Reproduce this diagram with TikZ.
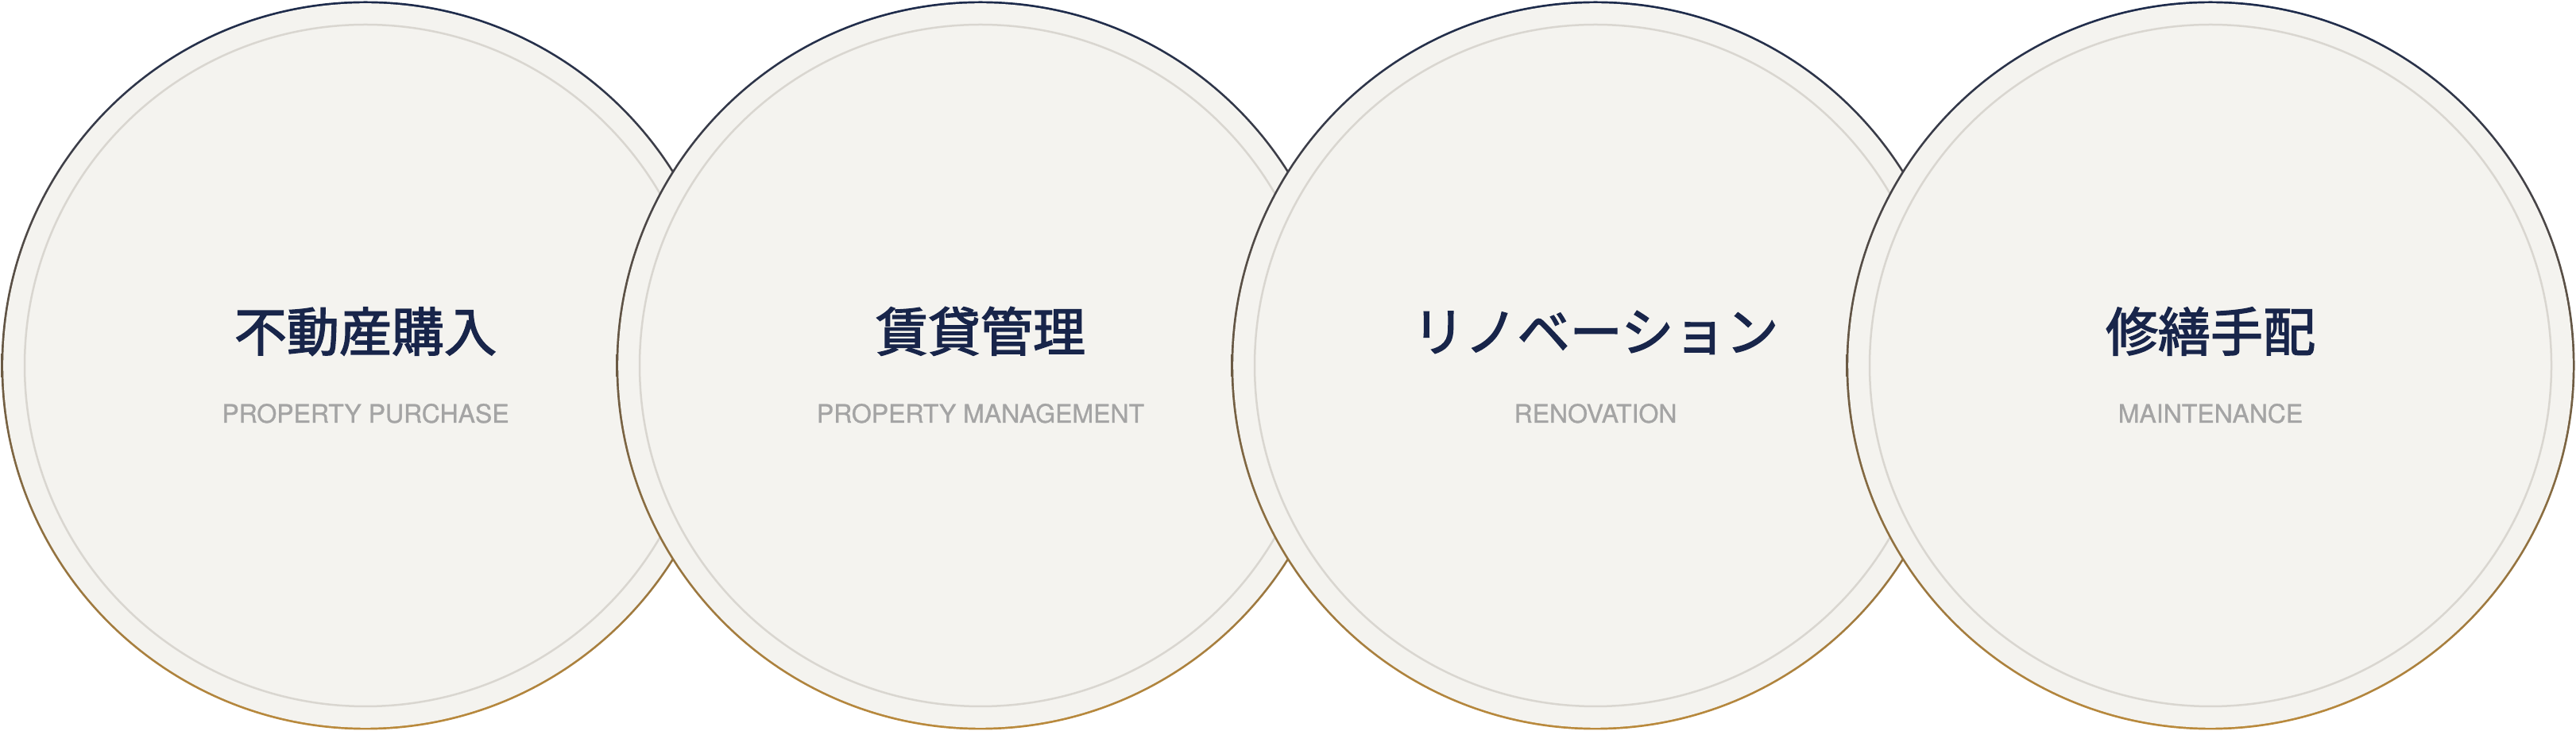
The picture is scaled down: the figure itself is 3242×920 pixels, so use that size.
\documentclass[tikz,border=0pt]{standalone}
\usepackage{fontspec}
\setmainfont{TeX Gyre Heros}[FakeBold=0.9]
\newfontfamily\jpfont{Noto Sans CJK JP}[FakeBold=2.3]
\definecolor{ringtop}{HTML}{1C2A4B}
\definecolor{ringbot}{HTML}{BA8A3C}
\definecolor{cfill}{HTML}{F4F3EF}
\definecolor{innerring}{HTML}{D9D6D0}
\definecolor{titlecol}{HTML}{18254A}
\definecolor{subcol}{HTML}{A4A4A4}
\tikzset{
  ringshade/.style={top color=ringtop, bottom color=ringbot},
  ringfill/.style={fill=cfill},
  innerline/.style={draw=innerring, line width=2.5pt},
  titletext/.style={text=titlecol, font=\jpfont\fontsize{66}{72}\selectfont, inner sep=0pt, anchor=base},
  subtext/.style={text=subcol, font=\fontsize{32}{38}\selectfont, inner sep=0pt, anchor=base}
}
\begin{document}
\begin{tikzpicture}[x=1pt,y=1pt]
\useasboundingbox (0,0) rectangle (3242,920);
\foreach \i/\cx/\ja/\en in {1/460/{不動産購入}/{PROPERTY PURCHASE},2/1234/{賃貸管理}/{PROPERTY MANAGEMENT},3/2008/{リノベーション}/{RENOVATION},4/2782/{修繕手配}/{MAINTENANCE}}{
  \coordinate (c\i) at (\cx,460);
  \shade[ringshade] (c\i) circle (458.5);
  \fill[ringfill] (c\i) circle (455.8);
  \draw[innerline] (c\i) circle (429);
  \node[titletext] (t\i) at (\cx,478) {\ja};
  \node[subtext] (s\i) at (\cx,388) {\en};
}
\end{tikzpicture}
\end{document}
